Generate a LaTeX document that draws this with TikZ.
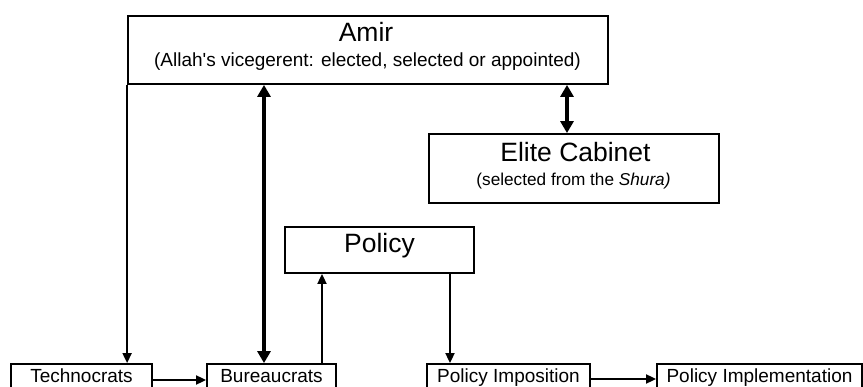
\documentclass[tikz,border=0pt]{standalone}
\usepackage{fontspec}
\setmainfont{Liberation Sans}
\newfontfamily\arialplain{Liberation Sans}
\usetikzlibrary{arrows.meta,calc}
\begin{document}
\begin{tikzpicture}[x=1pt,y=-1pt,
  box/.style={draw,line width=1.8pt,inner sep=0pt,minimum width=#1},
  lowbox/.style={box=#1,minimum height=24pt,text height=13.6pt,text depth=0pt,font=\fontsize{19}{21}\selectfont},
  big/.style={font=\fontsize{26.5}{28}\selectfont,inner sep=0pt,anchor=base},
  small/.style={font=\arialplain\fontsize{19}{21}\selectfont,inner sep=0pt,anchor=base},
  conn/.style={line width=1.8pt,-{Triangle[width=9pt,length=10pt]}},
  thickconn/.style={line width=3.8pt,{Triangle[width=13pt,length=12pt]}-{Triangle[width=13pt,length=12pt]}}
]
\useasboundingbox (0,0) rectangle (863,387);
% boxes
\node[box=480pt,minimum height=68pt] (amir) at (368,50) {};
\node[box=290pt,minimum height=69pt] (elite) at (574,168.5) {};
\node[box=189pt,minimum height=46pt] (policy) at (379.5,250) {};
\node[lowbox=141pt] (techno) at (81.5,376) {Technocrats};
\node[lowbox=129pt] (bur) at (271.5,376) {Bureaucrats};
\node[lowbox=163pt] (pimpo) at (508.5,376) {Policy Imposition};
\node[lowbox=205pt] (pimpl) at (759.5,376) {Policy Implementation};
% texts
\node[big] (amirT) at (366,42) {Amir};
\node[small] (amirS) at (367.5,67) {(Allah's vicegerent: elected, selected or appointed)};
\node[small,font=\arialplain\fontsize{17.2}{19}\selectfont] (eliteS) at (573.5,186) {(selected from the \textit{Shura)}};
\node[big] (eliteT) at (575.5,162) {Elite Cabinet};
\node[big] (policyT) at (379.5,253) {Policy};
% connectors
\draw[conn] (amir.south west) -- (amir.south west |- techno.north);
\draw[thickconn] ([xshift=-7.5pt]bur.north) -- ([xshift=-7.5pt]bur.north |- amir.south);
\draw[conn] ([xshift=50.5pt]bur.north) -- ([xshift=50.5pt]bur.north |- policy.south);
\draw[conn] ([xshift=-58.5pt]pimpo.north |- policy.south) -- ([xshift=-58.5pt]pimpo.north);
\draw[thickconn] ([xshift=-7pt]elite.north) -- ([xshift=-7pt]elite.north |- amir.south);
\draw[conn] ([yshift=-4pt]techno.east) -- ([yshift=-4pt]bur.west);
\draw[conn] ([yshift=-3pt]pimpo.east) -- ([yshift=-3pt]pimpo.east -| pimpl.west);
\end{tikzpicture}
\end{document}
